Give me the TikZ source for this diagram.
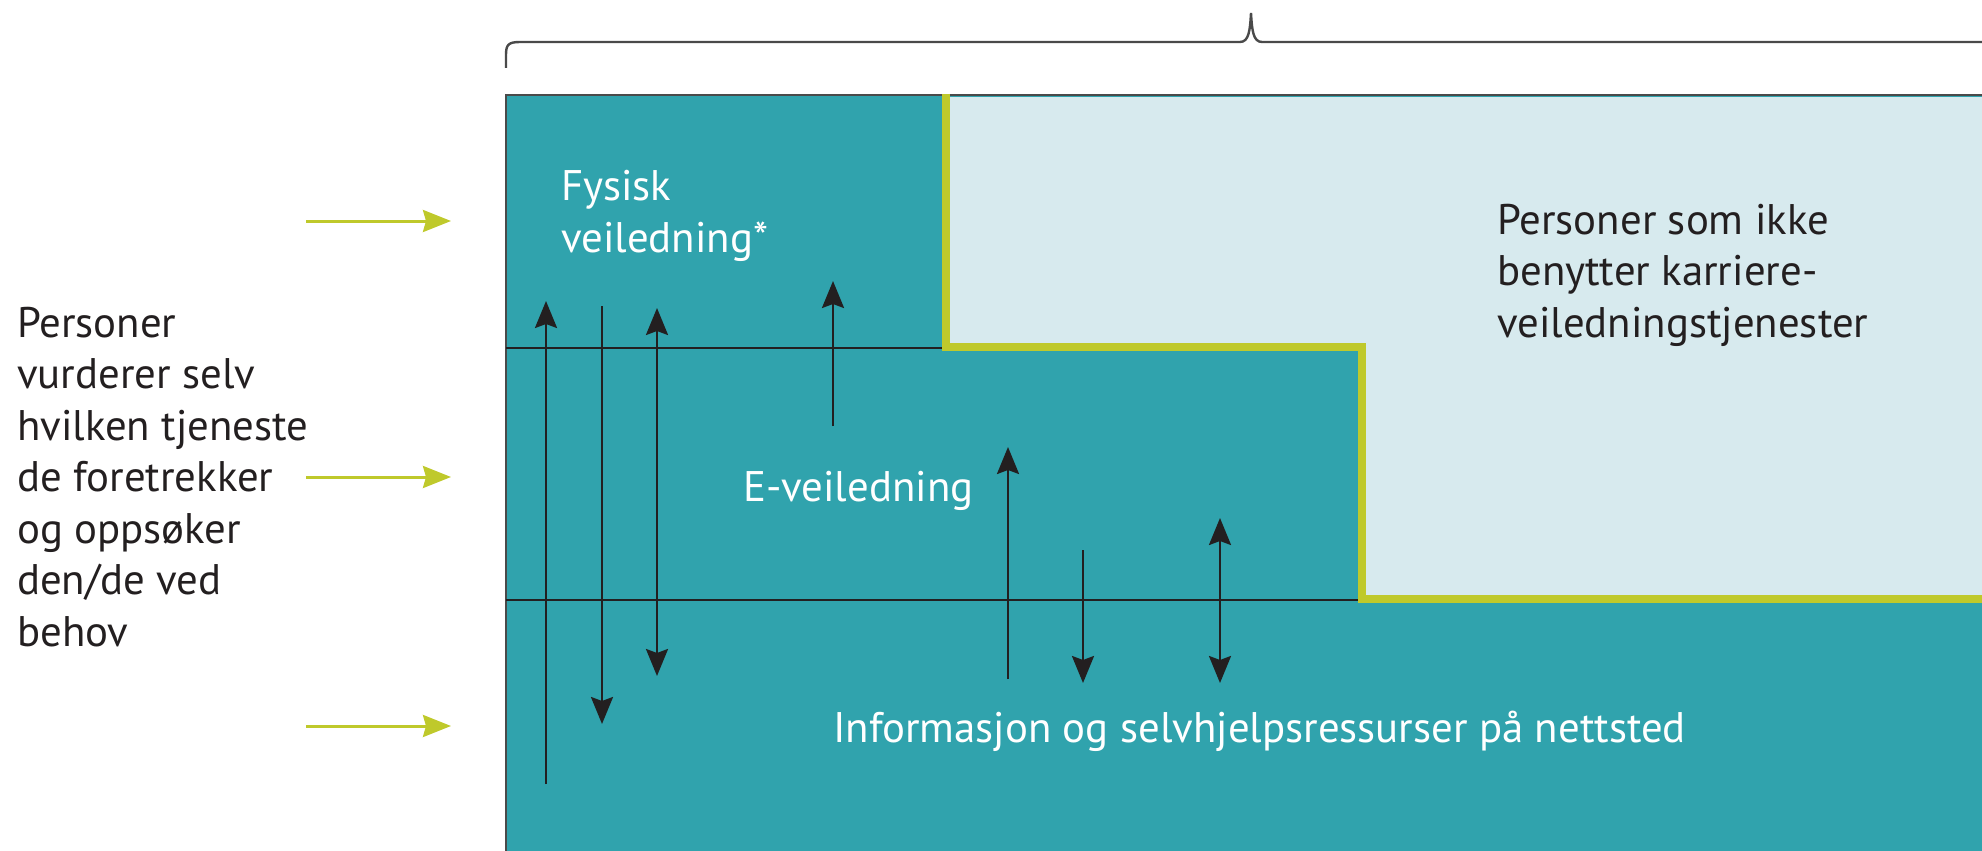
\documentclass[tikz,border=0pt]{standalone}
\usepackage{fontspec}
\setmainfont{PT Sans}
\usetikzlibrary{arrows.meta}

\definecolor{petrol}{HTML}{30A3AD}
\definecolor{lysbla}{HTML}{D7EAEE}
\definecolor{limegronn}{HTML}{BFC92B}
\definecolor{mork}{HTML}{231F20}
\definecolor{ramme}{HTML}{4A4A4A}

\begin{document}
\begin{tikzpicture}[x=1pt, y=-1pt,
    tekst/.style={anchor=base west, inner sep=0pt, align=left, font=\fontsize{42.8}{51.5}\selectfont},
    hvit/.style={tekst, text=white},
    pil/.style={draw=mork, line width=2.6pt},
    opp/.style={pil, -{Stealth[length=27pt, width=22pt, inset=4pt]}},
    begge/.style={pil, {Stealth[length=27pt, width=22pt, inset=4pt]}-{Stealth[length=27pt, width=22pt, inset=4pt]}},
    inn/.style={draw=limegronn, line width=3pt, -{Stealth[length=28pt, width=22pt, inset=3pt]}},
    skille/.style={draw=mork, line width=2pt}
  ]
    \useasboundingbox (0,0) rectangle (1982,851);
    \clip (0,0) rectangle (1982,851);

    % Klamme
    \draw[ramme, line width=2.4pt] (506,68) -- (506,55) .. controls (506,45) and (508,42) .. (520,42)
      -- (1240,42) .. controls (1249,42) and (1250,30) .. (1251,13)
      .. controls (1252,30) and (1253,42) .. (1262,42) -- (1995,42);

    % Flater
    \draw[fill=petrol, draw=ramme, line width=2.4pt] (506,95) rectangle (2000,870);
    \fill[lysbla] (946,97) -- (1990,97) -- (1990,599) -- (1362,599) -- (1362,347) -- (946,347) -- cycle;
    \draw[skille] (506,348) -- (942,348);
    \draw[skille] (506,600) -- (1358,600);
    \draw[limegronn, line width=7.5pt] (946,94) -- (946,347) -- (1362,347) -- (1362,599) -- (1995,599);

    % Tekster (base = siste linje)
    \node[tekst, text=mork] (vurderer) at (17,646)
      {Personer\\vurderer selv\\hvilken tjeneste\\de foretrekker\\og oppsøker\\den/de ved\\behov};
    \node[hvit] (fysisk) at (561,252) {Fysisk\\veiledning*};
    \node[tekst, text=mork] (ikkebruk) at (1497,337)
      {Personer som ikke\\benytter karriere-\\veiledningstjenester};
    \node[hvit] (evei) at (743,501) {E-veiledning};
    \node[hvit] (nettsted) at (833,742) {Informasjon og selvhjelpsressurser på nettsted};

    % Inngangspiler
    \coordinate (g1s) at (306,221); \coordinate (g1e) at (451,221);
    \coordinate (g2s) at (306,477); \coordinate (g2e) at (451,477);
    \coordinate (g3s) at (306,726); \coordinate (g3e) at (451,726);
    \draw[inn] (g1s) -- (g1e);
    \draw[inn] (g2s) -- (g2e);
    \draw[inn] (g3s) -- (g3e);

    % Bevegelse mellom tjenestene
    \coordinate (a1s) at (546,784); \coordinate (a1e) at (546,301);
    \coordinate (a2s) at (602,306); \coordinate (a2e) at (602,724);
    \coordinate (a3s) at (657,676); \coordinate (a3e) at (657,308);
    \coordinate (a4s) at (833,426); \coordinate (a4e) at (833,281);
    \coordinate (a5s) at (1008,679); \coordinate (a5e) at (1008,447);
    \coordinate (a6s) at (1083,550); \coordinate (a6e) at (1083,683);
    \coordinate (a7s) at (1220,683); \coordinate (a7e) at (1220,518);
    \draw[opp] (a1s) -- (a1e);
    \draw[opp] (a2s) -- (a2e);
    \draw[begge] (a3s) -- (a3e);
    \draw[opp] (a4s) -- (a4e);
    \draw[opp] (a5s) -- (a5e);
    \draw[opp] (a6s) -- (a6e);
    \draw[begge] (a7s) -- (a7e);
  \end{tikzpicture}
\end{document}
